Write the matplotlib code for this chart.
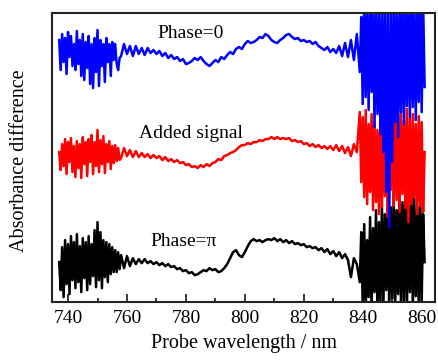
import matplotlib
matplotlib.use("Agg")
import matplotlib.pyplot as plt
import numpy as np

plt.rcParams['font.family'] = ['Liberation Serif', 'DejaVu Serif']

# wavelength grids (nm): noisy edges sampled finer than the quiet middle
wl_left = np.arange(737, 758, 0.5)
wl_mid = np.arange(758, 839, 1)
wl_right = np.arange(839, 861.5, 0.5)
wl = np.concatenate([wl_left, wl_mid, wl_right])

# absorbance difference, arbitrary units (traces offset as in the figure)
phase0_left = [262, 232, 268, 240, 264, 228, 270, 245, 266, 236, 258, 232, 271, 238,
               262, 226, 268, 222, 260, 234, 266, 218, 258, 214, 264, 230, 272, 216,
               262, 236, 258, 220, 264, 240, 258, 226, 260, 242, 258, 238, 232, 244]
phase0_mid = [246, 258, 248, 256, 246, 256, 248, 254, 247, 254, 249, 252, 248, 251,
              246, 249, 244, 247, 243, 245, 241, 243, 238, 239, 241, 244, 242, 245,
              241, 238, 236, 239, 242, 240, 245, 243, 247, 250, 248, 253, 255, 253,
              258, 261, 259, 260, 262, 265, 264, 268, 266, 262, 260, 259, 262, 264,
              267, 268, 265, 263, 264, 261, 262, 260, 261, 258, 260, 256, 254, 252,
              255, 250, 253, 249, 256, 246, 259, 245, 262, 242, 268]
phase0_right = [230, 285, 198, 300, 205, 295, 192, 300, 210, 298, 175, 300, 188, 292,
                168, 300, 150, 300, 110, 296, 75, 300, 140, 300, 180, 295, 165, 300,
                190, 300, 178, 298, 196, 300, 185, 300, 195, 300, 182, 296, 200, 300,
                190, 300, 215]

added_left = [150, 132, 158, 136, 163, 128, 160, 140, 164, 130, 156, 125, 161, 134,
              158, 124, 165, 138, 160, 126, 163, 140, 167, 128, 160, 136, 172, 130,
              162, 138, 166, 129, 158, 140, 161, 133, 156, 139, 157, 141, 154, 142]
added_mid = [144, 154, 146, 152, 145, 151, 145, 149, 145, 148, 144, 147, 144, 146,
             142, 145, 141, 143, 140, 142, 139, 140, 137, 138, 135, 136, 134, 137,
             135, 138, 136, 139, 140, 143, 142, 146, 147, 149, 150, 152, 155, 157,
             157, 159, 158, 160, 160, 162, 161, 163, 163, 165, 163, 165, 163, 164,
             163, 164, 161, 162, 160, 161, 158, 159, 156, 158, 155, 157, 154, 156,
             153, 156, 152, 157, 151, 156, 149, 155, 146, 158, 150]
added_right = [190, 120, 185, 105, 192, 98, 178, 110, 188, 92, 180, 100, 172, 88,
               185, 95, 176, 106, 168, 85, 190, 112, 182, 96, 194, 102, 186, 90,
               190, 108, 181, 94, 193, 80, 184, 98, 188, 104, 178, 88, 186, 96,
               180, 90, 150]

phasepi_left = [40, 12, 55, 5, 62, 18, 58, 8, 66, 22, 60, 14, 68, 20,
                56, 10, 64, 24, 60, 12, 66, 18, 58, 26, 72, 15, 80, 22,
                70, 14, 62, 25, 60, 20, 58, 28, 55, 30, 52, 30, 50, 33]
phasepi_mid = [47, 34, 46, 36, 44, 38, 43, 39, 43, 39, 41, 38, 40, 37,
               39, 36, 38, 35, 36, 33, 34, 31, 32, 29, 30, 27, 28, 30,
               32, 31, 34, 32, 33, 30, 31, 34, 38, 44, 50, 52, 47, 45,
               50, 56, 61, 63, 61, 62, 60, 62, 63, 62, 64, 61, 63, 60,
               62, 59, 61, 58, 59, 57, 58, 55, 56, 54, 55, 52, 54, 50,
               53, 48, 51, 46, 50, 44, 48, 42, 25, 44, 38]
phasepi_right = [20, 70, -5, 78, -10, 62, 5, 85, -8, 74, 10, 92, -10, 80,
                 0, 98, -6, 88, 12, 105, -10, 95, 4, 110, -8, 92, 8, 118,
                 -10, 100, 2, 112, -6, 96, 10, 120, -10, 104, 6, 95, -8, 110,
                 0, 88, 40]

phase0 = phase0_left + phase0_mid + phase0_right
added = added_left + added_mid + added_right
phasepi = phasepi_left + phasepi_mid + phasepi_right

labels = ["Phase=0", "Added signal", "Phase=\u03c0"]
label_x = [781.5, 781.8, 779.1]
label_y = [269, 169, 61]

fig = plt.figure(figsize=(4.38, 3.61), dpi=100)
ax = fig.add_axes([0.119, 0.163, 0.874, 0.801])

ax.plot(wl, phasepi, color="black", lw=1.8)
ax.plot(wl, added, color="red", lw=1.8)
ax.plot(wl, phase0, color="blue", lw=1.8)

for t, x, y in zip(labels, label_x, label_y):
    ax.text(x, y, t, fontsize=14, ha="center", va="center")

ax.set_xlim(734.6, 864.5)
ax.set_ylim(0, 289)
ax.set_xticks([740, 760, 780, 800, 820, 840, 860])
ax.set_xticks([750, 770, 790, 810, 830, 850], minor=True)
ax.set_yticks([])
ax.tick_params(axis="x", which="major", direction="in", length=6, width=1.1,
               labelsize=14, pad=6)
ax.tick_params(axis="x", which="minor", direction="in", length=3, width=1.1)
for s in ax.spines.values():
    s.set_linewidth(1.5)
    s.set_color("#222222")

ax.set_xlabel("Probe wavelength / nm", fontsize=14.5, labelpad=5)
ax.set_ylabel("Absorbance difference", fontsize=14.5)
ax.yaxis.set_label_coords(-0.06, 0.49)

fig.savefig("out.png", dpi=100)
